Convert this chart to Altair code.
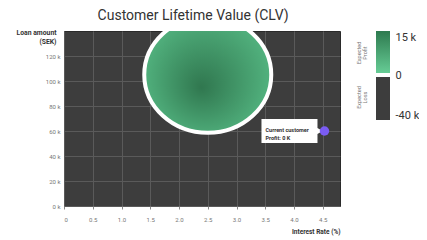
import altair as alt
import pandas as pd

# ---------------- data ----------------
chart_title = "Customer Lifetime Value (CLV)"
x_title = "Interest Rate (%)"
y_title = ["Loan amount", "(SEK)"]
rate_ticks = [0, 0.5, 1.0, 1.5, 2.0, 2.5, 3.0, 3.5, 4.0, 4.5]
loan_ticks = [0, 20000, 40000, 60000, 80000, 100000, 120000]
rate_domain = [0, 4.8]
loan_domain = [0, 140000]

profit_zone_rate = [2.5]
profit_zone_loan = [105000]

customer_rate = [4.53]
customer_loan = [60000]
customer_text = ["Current customer\nProfit: 0 K"]

legend_values = [15000, 0, -40000]
legend_groups = ["Expected\nProfit", "Expected\nLoss"]
legend_from = [0, -40000]
legend_to = [15000, 0]
legend_mid = [7500, -20000]

# ---------------- style ----------------
FONT = "Roboto"
BG = "#3d3d3d"
GRID = "#5a5a5a"
GREEN_DARK = "#30774f"
GREEN_LIGHT = "#58bd87"

zone_df = pd.DataFrame({"rate": profit_zone_rate, "loan": profit_zone_loan})
cust_df = pd.DataFrame({"rate": customer_rate, "loan": customer_loan, "label": customer_text})

x_enc = alt.X(
    "rate:Q",
    scale=alt.Scale(domain=rate_domain, nice=False, zero=False),
    axis=alt.Axis(
        values=rate_ticks,
        labelExpr="datum.value == 0 ? '0' : format(datum.value, '.1f')",
        title=x_title,
        titleAnchor="end",
        titleFontSize=6.5,
        titleFontWeight="bold",
        titleColor="#333333",
        titlePadding=6,
        labelFontSize=6,
        labelColor="#777777",
        labelPadding=7,
        tickSize=3,
        tickColor="#888888",
        domain=False,
        gridColor=GRID,
        labelFont=FONT,
        titleFont=FONT,
    ),
)
y_enc = alt.Y(
    "loan:Q",
    scale=alt.Scale(domain=loan_domain, nice=False, zero=False),
    axis=alt.Axis(
        values=loan_ticks,
        labelExpr="datum.value / 1000 + ' k'",
        title=y_title,
        titleAngle=0,
        titleAlign="right",
        titleBaseline="top",
        titleX=-8,
        titleY=-2,
        titleLineHeight=9,
        titleFontSize=6.8,
        titleFontWeight="bold",
        titleColor="#333333",
        labelFontSize=6,
        labelColor="#777777",
        labelPadding=4,
        ticks=False,
        domain=False,
        gridColor=GRID,
        labelFont=FONT,
        titleFont=FONT,
    ),
)

ellipse_path = (
    "M -1 0 C -1 -0.5043 -0.5523 -0.913 0 -0.913 "
    "C 0.5523 -0.913 1 -0.5043 1 0 "
    "C 1 0.5043 0.5523 0.913 0 0.913 "
    "C -0.5523 0.913 -1 0.5043 -1 0 Z"
)
zone_fill = alt.Gradient(
    gradient="radial",
    stops=[
        alt.GradientStop(offset=0, color=GREEN_DARK),
        alt.GradientStop(offset=1, color=GREEN_LIGHT),
    ],
    x1=0.45, y1=0.6, r1=0, x2=0.5, y2=0.5, r2=0.6,
)

zone = alt.Chart(zone_df).mark_point(
    shape=ellipse_path, size=16129, filled=True, fill=zone_fill,
    stroke="white", strokeWidth=4, opacity=1, fillOpacity=1, clip=True,
).encode(x=x_enc, y=y_enc)

callout_path = "M -63 -12 L -7 -12 L -7 -3 L -2 0 L -7 3 L -7 12 L -63 12 Z"
callout = alt.Chart(cust_df).mark_point(
    shape=callout_path, size=4, filled=True, fill="white", opacity=1, strokeWidth=0,
).encode(x=x_enc, y=y_enc)

callout_text = alt.Chart(cust_df).mark_text(
    align="left", baseline="middle", dx=-59, dy=-1, fontSize=5.5,
    fontWeight="bold", lineBreak="\n", lineHeight=8, color="#333333", font=FONT,
).encode(x=x_enc, y=y_enc, text="label:N")

dot = alt.Chart(cust_df).mark_point(
    filled=True, size=90, color="#7a5cf2", opacity=1,
).encode(x=x_enc, y=y_enc)

main = alt.layer(zone, callout, callout_text, dot).properties(
    width=276, height=175,
    view=alt.ViewBackground(fill=BG, stroke="#2a2a2a"),
)

# ---------------- legend ----------------
leg_df = pd.DataFrame({
    "group": legend_groups, "lo": legend_from, "hi": legend_to, "mid": legend_mid,
})
leg_scale = alt.Scale(domain=[-40000, 0, 15000], range=[89, 44, 0])

leg_axis = alt.Axis(
    orient="right", values=legend_values,
    labelExpr="datum.value == 0 ? '0' : datum.value / 1000 + ' k'",
    domain=False, ticks=False, grid=False, title=None,
    labelFontSize=11, labelColor="#333333", labelFlush=True, labelPadding=5,
    labelFont=FONT,
)

profit_grad = alt.Gradient(
    gradient="linear",
    stops=[
        alt.GradientStop(offset=0, color="#2e7a4f"),
        alt.GradientStop(offset=1, color="#66cc95"),
    ],
    x1=0, x2=0, y1=0, y2=1,
)

leg_profit = alt.Chart(leg_df).transform_filter("datum.lo == 0").mark_rect(
    fill=profit_grad, y2Offset=-2,
).encode(
    y=alt.Y("hi:Q", scale=leg_scale, axis=leg_axis),
    y2="lo:Q",
)
leg_loss = alt.Chart(leg_df).transform_filter("datum.lo < 0").mark_rect(
    fill=BG, yOffset=2,
).encode(
    y=alt.Y("hi:Q", scale=leg_scale, axis=leg_axis),
    y2="lo:Q",
)
leg_text = alt.Chart(leg_df).mark_text(
    angle=270, fontSize=5.5, color="#777777", lineBreak="\n", lineHeight=6,
    align="center", baseline="middle", font=FONT,
).encode(
    y=alt.Y("mid:Q", scale=leg_scale, axis=leg_axis),
    x=alt.value(-17),
    text="group:N",
)

legend = alt.layer(leg_profit, leg_loss, leg_text).properties(
    width=14, height=89,
    view=alt.ViewBackground(fill=None, stroke=None),
)

chart = alt.hconcat(main, legend, spacing=16).properties(
    title=alt.Title(
        chart_title, anchor="start", dx=82, fontSize=14, fontWeight="normal",
        color="#333333", font=FONT, offset=6,
    ),
    padding={"left": 7, "top": 0, "right": 0, "bottom": 2},
).configure_view(strokeWidth=1)

chart.save("out.html", embed_options={"renderer": "svg", "actions": False})
